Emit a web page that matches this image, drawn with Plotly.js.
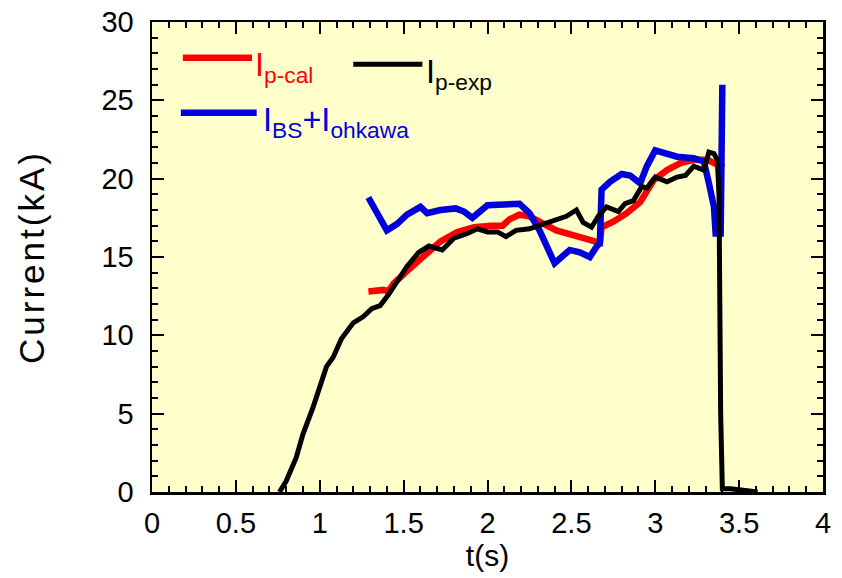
<!DOCTYPE html>
<html>
<head>
<meta charset="utf-8">
<script src="https://cdn.plot.ly/plotly-3.0.1.min.js"></script>
<style>
  html, body { margin: 0; padding: 0; background: #ffffff; }
  #chart { width: 842px; height: 578px; }
  /* the vertical axis title is set a little wider than the tick labels */
  #chart .ytitle { letter-spacing: 3px; }
</style>
</head>
<body>
<div id="chart"></div>
<script>
// Measured plasma current (I_p-exp)
const tExp = [0.76, 0.80, 0.86, 0.90, 0.96, 1.00, 1.04, 1.08, 1.13, 1.20, 1.26, 1.31, 1.36, 1.41, 1.45,
  1.52, 1.59, 1.65, 1.73, 1.80, 1.88, 1.94, 2.00, 2.06, 2.11, 2.17, 2.25, 2.31, 2.39, 2.47,
  2.53, 2.57, 2.62, 2.66, 2.71, 2.78, 2.82, 2.87, 2.92, 2.95, 3.00, 3.07, 3.13, 3.18, 3.23,
  3.29, 3.32, 3.35, 3.37, 3.38, 3.39, 3.40, 3.45, 3.50, 3.55, 3.61];
const iExp = [0.0, 0.7, 2.2, 3.7, 5.4, 6.6, 8.0, 8.6, 9.8, 10.8, 11.2, 11.7, 11.9, 12.6, 13.3,
  14.4, 15.3, 15.7, 15.45, 16.2, 16.5, 16.8, 16.6, 16.6, 16.3, 16.7, 16.8, 17.0, 17.25, 17.6,
  18.0, 17.2, 16.9, 17.6, 18.2, 17.9, 18.4, 18.6, 19.5, 19.4, 20.1, 19.8, 20.1, 20.2, 20.8,
  20.55, 21.7, 21.6, 21.2, 19.0, 5.0, 0.2, 0.2, 0.15, 0.1, 0.0];

// Calculated plasma current (I_p-cal)
const tCal = [1.29, 1.38, 1.41, 1.44, 1.52, 1.62, 1.72, 1.82, 1.92, 2.02, 2.09, 2.13, 2.19, 2.25, 2.31,
  2.41, 2.51, 2.60, 2.67, 2.68, 2.75, 2.83, 2.91, 2.99, 3.07, 3.15, 3.23, 3.31, 3.37, 3.41];
const iCal = [12.8, 12.9, 12.8, 13.3, 14.1, 15.0, 16.0, 16.6, 16.9, 17.0, 17.0, 17.4, 17.7, 17.6, 17.25,
  16.7, 16.4, 16.1, 15.9, 16.9, 17.25, 17.8, 18.5, 19.9, 20.55, 21.0, 21.2, 21.2, 20.9, 20.7];

// Bootstrap + Ohkawa current (I_BS + I_ohkawa)
const tBS = [1.29, 1.30, 1.34, 1.40, 1.46, 1.52, 1.60, 1.64, 1.72, 1.81, 1.86, 1.91, 2.00, 2.06, 2.13,
  2.19, 2.25, 2.31, 2.40, 2.49, 2.55, 2.61, 2.65, 2.67, 2.68, 2.73, 2.80, 2.85, 2.91, 2.95,
  3.00, 3.07, 3.13, 3.23, 3.29, 3.32, 3.35, 3.36, 3.39, 3.40];
const iBS = [18.8, 18.6, 17.8, 16.7, 17.1, 17.7, 18.2, 17.8, 18.0, 18.1, 17.9, 17.5, 18.3, 18.3, 18.3,
  18.4, 17.8, 16.7, 14.6, 15.45, 15.3, 15.0, 15.66, 15.9, 19.3, 19.8, 20.3, 20.2, 19.7, 20.8,
  21.8, 21.6, 21.4, 21.3, 21.1, 19.7, 18.2, 16.5, 16.5, 26.0];

const xTickVals = [0, 0.5, 1, 1.5, 2, 2.5, 3, 3.5, 4];
const xTickText = ['0', '0.5', '1', '1.5', '2', '2.5', '3', '3.5', '4'];
const yTickVals = [0, 5, 10, 15, 20, 25, 30];

const FONT = '"Liberation Sans", Arial, Helvetica, sans-serif';
const RED = '#ff0000', BLUE = '#0000dd', BLACK = '#000000';

const traces = [
  { x: tCal, y: iCal, type: 'scatter', mode: 'lines', name: 'I<sub>p-cal</sub>',
    line: { color: RED, width: 6.5 } },
  { x: tBS, y: iBS, type: 'scatter', mode: 'lines', name: 'I<sub>BS</sub>+I<sub>ohkawa</sub>',
    line: { color: BLUE, width: 6.5 } },
  { x: tExp, y: iExp, type: 'scatter', mode: 'lines', name: 'I<sub>p-exp</sub>',
    line: { color: BLACK, width: 5 } }
];

// Hand-placed key: sample lines and coloured labels inside the plot area
const key = [
  { x0: 0.046, x1: 0.149, y: 0.924, color: RED, width: 6.5, tx: 0.150, ty: 0.903, text: 'I<sub>p-cal</sub>' },
  { x0: 0.300, x1: 0.403, y: 0.910, color: BLACK, width: 5, tx: 0.405, ty: 0.889, text: 'I<sub>p-exp</sub>' },
  { x0: 0.043, x1: 0.156, y: 0.807, color: BLUE, width: 6.5, tx: 0.162, ty: 0.786, text: 'I<sub>BS</sub>+I<sub>ohkawa</sub>' }
];

const shapes = key.map(k => ({
  type: 'line', xref: 'paper', yref: 'paper', x0: k.x0, x1: k.x1, y0: k.y, y1: k.y,
  line: { color: k.color, width: k.width }
}));
const annotations = key.map(k => ({
  xref: 'paper', yref: 'paper', x: k.tx, y: k.ty, xanchor: 'left', yanchor: 'middle',
  text: k.text, showarrow: false, font: { family: FONT, size: 32.5, color: k.color }
}));

const axisCommon = {
  showline: true, linecolor: BLACK, linewidth: 2.5, mirror: 'allticks',
  ticks: 'inside', ticklen: 12, tickwidth: 2, tickcolor: BLACK,
  showgrid: false, zeroline: false,
  tickfont: { family: FONT, size: 29, color: BLACK }
};

const layout = {
  width: 842, height: 578,
  margin: { l: 152, r: 19, t: 22, b: 86 },
  paper_bgcolor: '#ffffff', plot_bgcolor: '#ffffcc',
  showlegend: false,
  xaxis: Object.assign({}, axisCommon, {
    range: [0, 4], tickmode: 'array', tickvals: xTickVals, ticktext: xTickText,
    minor: { dtick: 0.1, ticks: 'inside', ticklen: 6, tickwidth: 2, tickcolor: BLACK, showgrid: false },
    ticklabelstandoff: 4,
    title: { text: 't(s)', font: { family: FONT, size: 30, color: BLACK }, standoff: 5 }
  }),
  yaxis: Object.assign({}, axisCommon, {
    range: [0, 30], tickmode: 'array', tickvals: yTickVals,
    minor: { dtick: 1, ticks: 'inside', ticklen: 6, tickwidth: 2, tickcolor: BLACK, showgrid: false },
    ticklabelstandoff: 10,
    title: { text: 'Current(kA)', font: { family: FONT, size: 35, color: BLACK }, standoff: 46 }
  }),
  shapes: shapes,
  annotations: annotations
};

Plotly.newPlot('chart', traces, layout, { staticPlot: true, displayModeBar: false });
</script>
</body>
</html>
